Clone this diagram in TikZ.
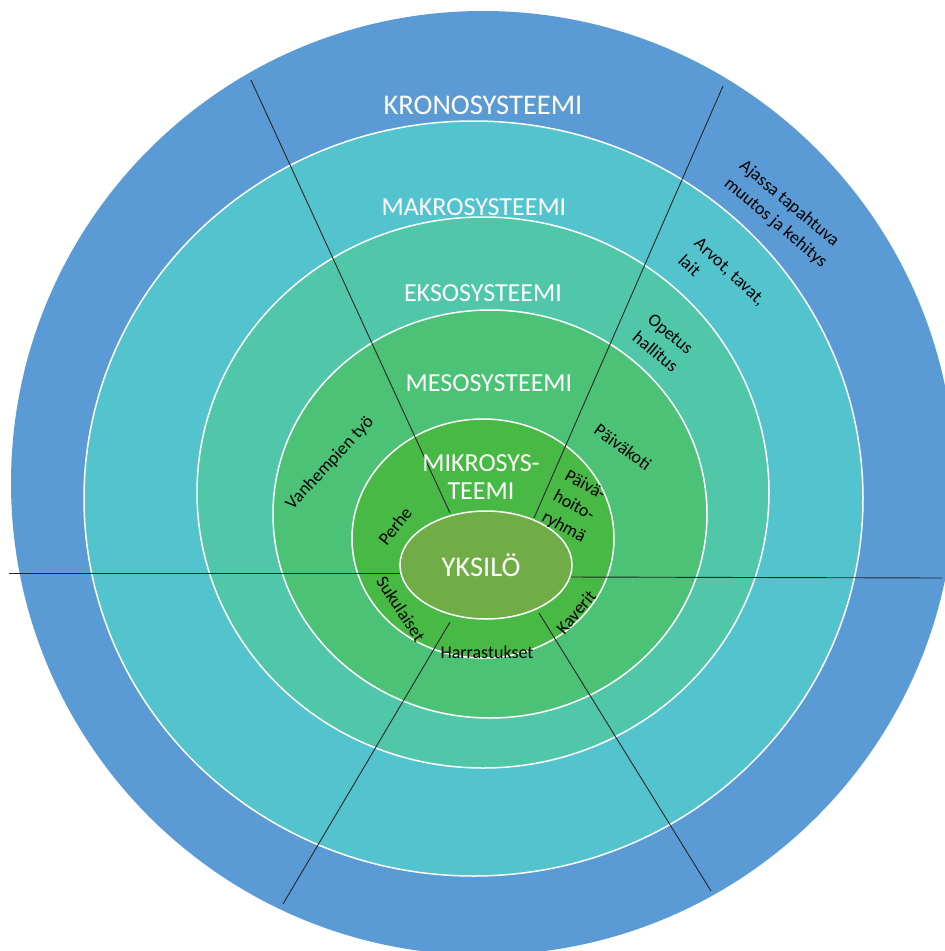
\documentclass[tikz,border=0pt]{standalone}
\usepackage{fontspec}
\setmainfont{Carlito}
\usetikzlibrary{shapes.geometric}
\definecolor{kronosc}{HTML}{5B9BD5}
\definecolor{makroc}{HTML}{53C3CD}
\definecolor{eksoc}{HTML}{50C7A9}
\definecolor{mesoc}{HTML}{4BC275}
\definecolor{mikroc}{HTML}{48B944}
\definecolor{yksc}{HTML}{70AD47}
\begin{document}
\begin{tikzpicture}[x=1pt,y=-1pt,
  ring/.style={ellipse, draw=white, line width=1.5pt, inner sep=0pt},
  title/.style={text=white, font=\fontsize{26}{28}\selectfont, inner sep=0pt, align=center},
  bigtitle/.style={title, font=\fontsize{28.5}{30}\selectfont},
  lbl/.style={text=black, font=\fontsize{18}{23.5}\selectfont, inner sep=0pt, align=left},
  sepline/.style={draw=black!85, line width=0.9pt}]
\useasboundingbox (0,0) rectangle (945,951);
\clip (0,0) rectangle (945,951);
\fill[white] (0,0) rectangle (945,951);
% rings
\node[circle, fill=kronosc, inner sep=0pt, minimum size=944pt] (kronos) at (483,483) {};
\node[ring, fill=makroc, minimum width=779pt, minimum height=755pt] (makro) at (473.5,498.5) {};
\node[ring, fill=eksoc, minimum width=572pt, minimum height=551pt] (ekso) at (483,492.5) {};
\node[ring, fill=mesoc, minimum width=434pt, minimum height=408pt] (meso) at (490,514) {};
\node[ring, fill=mikroc, minimum width=262pt, minimum height=239pt] (mikro) at (483,538.5) {};
% separator end points
\coordinate (a1) at (450,513); \coordinate (b1) at (251,80);
\coordinate (a2) at (534,518); \coordinate (b2) at (723,86);
\coordinate (a3) at (400,573); \coordinate (b3) at (9,573);
\coordinate (a4) at (567,577); \coordinate (b4) at (942,578);
\coordinate (a5) at (450,622); \coordinate (b5) at (283,904);
\coordinate (a6) at (539,613); \coordinate (b6) at (711,891);
\draw[sepline] (a1) -- (b1);
\draw[sepline] (a2) -- (b2);
\draw[sepline] (a3) -- (b3);
\draw[sepline] (a4) -- (b4);
\draw[sepline] (a5) -- (b5);
\draw[sepline] (a6) -- (b6);
% centre
\node[ring, fill=yksc, minimum width=172pt, minimum height=108pt] (yks) at (486,565) {};
% titles
\node[bigtitle] (tkronos) at (483,105) {KRONOSYSTEEMI};
\node[title] (tmakro) at (474,207) {MAKROSYSTEEMI};
\node[title] (tekso) at (483,293) {EKSOSYSTEEMI};
\node[title] (tmeso) at (489,383) {MESOSYSTEEMI};
\node[title] (tmikro) at (481,477) {MIKROSYS-\\TEEMI};
\node[bigtitle] (tyks) at (481,565) {YKSILÖ};
% labels
\node[lbl, rotate=-40] (lajassa) at (783,214) {Ajassa tapahtuva\\muutos ja kehitys};
\node[lbl, rotate=-43] (larvot) at (722,280) {Arvot, tavat,\\lait};
\node[lbl, rotate=-40] (lopetus) at (663,343) {Opetus\\hallitus};
\node[lbl, rotate=-36] (lpaivakoti) at (623,447) {Päiväkoti};
\node[lbl, rotate=-29] (lpaivahoito) at (575,507) {Päivä-\\hoito-\\ryhmä};
\node[lbl, rotate=47] (lvanhempien) at (330,463) {Vanhempien työ};
\node[lbl, rotate=52] (lperhe) at (395,526) {Perhe};
\node[lbl, rotate=-57] (lsukulaiset) at (401,609) {Sukulaiset};
\node[lbl] (lharrastukset) at (487,652) {Harrastukset};
\node[lbl, rotate=50] (lkaverit) at (576,612) {Kaverit};
\end{tikzpicture}
\end{document}
